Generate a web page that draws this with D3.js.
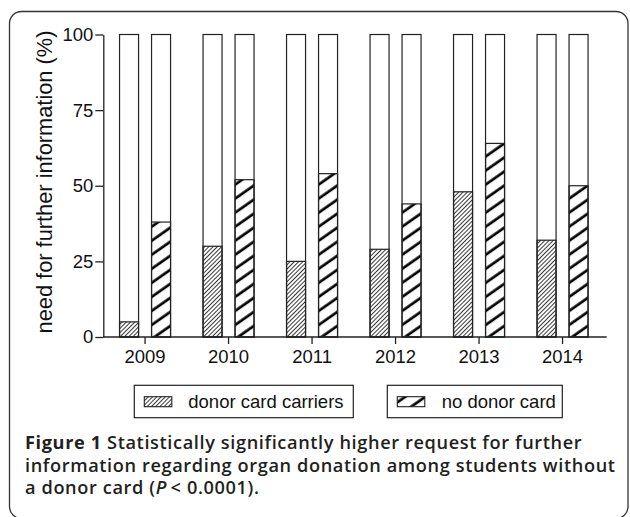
<!DOCTYPE html>
<html>
<head>
<meta charset="utf-8">
<script src="https://cdn.jsdelivr.net/npm/d3@7"></script>
<style>
  body { margin: 0; background: #fff; }
  svg { display: block; }
</style>
</head>
<body>
<svg id="chart" width="630" height="517"></svg>
<script>
// data
let years = ["2009", "2010", "2011", "2012", "2013", "2014"]
let series = ["donor card carriers", "no donor card"]
let carriers = [5, 30, 25, 29, 48, 32]
let noCard = [38, 52, 54, 44, 64, 50]
let yTicks = [0, 25, 50, 75, 100]

let svg = d3.select("#chart")
let ink = "#222"

// hatch patterns
let defs = svg.append("defs")
defs.append("pattern")
    .attr("id", "fine")
    .attr("patternUnits", "userSpaceOnUse")
    .attr("width", 3).attr("height", 10)
    .attr("patternTransform", "rotate(45)")
    .append("line")
    .attr("x1", 1.5).attr("x2", 1.5).attr("y1", 0).attr("y2", 10)
    .attr("stroke", ink).attr("stroke-width", 0.9)
defs.append("pattern")
    .attr("id", "thick")
    .attr("patternUnits", "userSpaceOnUse")
    .attr("width", 11.5).attr("height", 20)
    .attr("patternTransform", "rotate(55)")
    .append("line")
    .attr("x1", 5.5).attr("x2", 5.5).attr("y1", 0).attr("y2", 20)
    .attr("stroke", "#000").attr("stroke-width", 2.7)
let fills = {"donor card carriers": "url(#fine)", "no donor card": "url(#thick)"}

// frame
svg.append("rect")
    .attr("x", 9.5).attr("y", 11.5)
    .attr("width", 618.5).attr("height", 507)
    .attr("rx", 12).attr("ry", 12)
    .attr("fill", "none").attr("stroke", "#333").attr("stroke-width", 1.3)

// scales
let xscale = d3.scaleBand().domain(years).range([103.3, 604.3]).padding(0)
let inner = d3.scaleBand().domain(series).range([-25.5, 25.5]).paddingInner(13 / 32)
let yscale = d3.scaleLinear().domain([0, 100]).range([337, 34.5])

let rows = years.map((y, i) => ({year: y, values: [
    {key: series[0], v: carriers[i]},
    {key: series[1], v: noCard[i]}
]}))

let groups = svg.append("g").selectAll("g")
    .data(rows).enter().append("g")
    .attr("transform", d => "translate(" + (xscale(d.year) + xscale.bandwidth() / 2) + ",0)")

// hatched part
groups.selectAll(".val")
    .data(d => d.values).enter().append("rect")
    .attr("class", "val")
    .attr("x", d => inner(d.key))
    .attr("width", inner.bandwidth())
    .attr("y", d => yscale(d.v))
    .attr("height", d => yscale(0) - yscale(d.v))
    .attr("fill", d => fills[d.key])
    .attr("stroke", ink).attr("stroke-width", 1.2)

// full 100% outline
groups.selectAll(".full")
    .data(d => d.values).enter().append("rect")
    .attr("class", "full")
    .attr("x", d => inner(d.key))
    .attr("width", inner.bandwidth())
    .attr("y", yscale(100))
    .attr("height", yscale(0) - yscale(100))
    .attr("fill", "none")
    .attr("stroke", ink).attr("stroke-width", 1.2)

// axes
let font = "'Liberation Sans', Arial, sans-serif"
let yAxis = d3.axisLeft(yscale).tickValues(yTicks).tickSize(8).tickPadding(2).tickSizeOuter(0)
let gy = svg.append("g").attr("transform", "translate(103.3,0)").call(yAxis)
let xAxis = d3.axisBottom(xscale).tickSize(7).tickPadding(6).tickSizeOuter(0)
let gx = svg.append("g").attr("transform", "translate(0,337)").call(xAxis)
gx.select(".domain").attr("d", "M103.3,0H606.7")
for (let g of [gx, gy]) {
    g.selectAll("path, line").attr("stroke", ink).attr("stroke-width", 1.3)
    g.selectAll("text").attr("fill", "#111").style("font-family", font).style("font-size", "18.5px")
}

// y label
svg.append("text")
    .attr("transform", "translate(51.5,182) rotate(-90)")
    .attr("text-anchor", "middle")
    .style("font-family", font).style("font-size", "21.8px")
    .attr("fill", "#111")
    .text("need for further information (%)")

// legend
let legend = [
    {key: series[0], x: 134.3, w: 219, sw: 144.3, tx: 188.3},
    {key: series[1], x: 387.3, w: 175, sw: 397.3, tx: 441.7}
]
let lg = svg.append("g").selectAll("g").data(legend).enter().append("g")
lg.append("rect")
    .attr("x", d => d.x).attr("y", 385.3).attr("width", d => d.w).attr("height", 32.4)
    .attr("fill", "#fff").attr("stroke", ink).attr("stroke-width", 1.2)
lg.append("rect")
    .attr("x", d => d.sw).attr("y", 396.7).attr("width", 27.5).attr("height", 10)
    .attr("fill", d => fills[d.key]).attr("stroke", ink).attr("stroke-width", 1.1)
lg.append("text")
    .attr("x", d => d.tx).attr("y", 408.3)
    .style("font-family", font).style("font-size", "18.5px")
    .attr("fill", "#111")
    .text(d => d.key)

// caption
let capFont = "'Open Sans', 'Noto Sans', sans-serif"
let cap = svg.append("g")
    .style("font-family", capFont).style("font-size", "18.2px")
    .attr("fill", "#231f20")
let l1 = cap.append("text").attr("x", 25).attr("y", 449.3)
l1.append("tspan").style("font-weight", 700).text("Figure 1")
l1.append("tspan").style("font-weight", 600).text(" Statistically significantly higher request for further")
let l2 = cap.append("text").attr("x", 25).attr("y", 471.7).style("font-weight", 600)
    .text("information regarding organ donation among students without")
let l3 = cap.append("text").attr("x", 25).attr("y", 494).style("font-weight", 600)
l3.append("tspan").text("a donor card (")
l3.append("tspan").style("font-style", "italic").text("P")
l3.append("tspan").text("\u2009< 0.0001).")

// stretch the caption a little so line 2 reaches the right edge like the figure
let line2 = l2.text()
let w = l2.node().getComputedTextLength()
let extra = (590 - w) / (line2.length - 1)
cap.style("letter-spacing", extra + "px")
</script>
</body>
</html>
